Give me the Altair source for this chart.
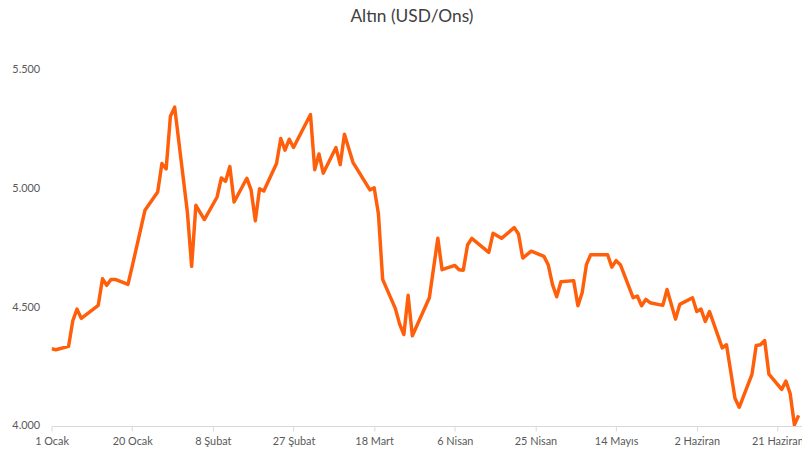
import altair as alt
import pandas as pd

# Trading-day vertices (2026, non-leap year)
dates = [
    "2026-01-01", "2026-01-02", "2026-01-05", "2026-01-06", "2026-01-07", "2026-01-08",
    "2026-01-12", "2026-01-13", "2026-01-14", "2026-01-15", "2026-01-16", "2026-01-19",
    "2026-01-20", "2026-01-23", "2026-01-26", "2026-01-27", "2026-01-28", "2026-01-29",
    "2026-01-30", "2026-02-02", "2026-02-03", "2026-02-04", "2026-02-06", "2026-02-09",
    "2026-02-10", "2026-02-11", "2026-02-12", "2026-02-13", "2026-02-16", "2026-02-17",
    "2026-02-18", "2026-02-19", "2026-02-20", "2026-02-23", "2026-02-24", "2026-02-25",
    "2026-02-26", "2026-02-27", "2026-03-03", "2026-03-04", "2026-03-05", "2026-03-06",
    "2026-03-09", "2026-03-10", "2026-03-11", "2026-03-13", "2026-03-17", "2026-03-18",
    "2026-03-19", "2026-03-20", "2026-03-23", "2026-03-24", "2026-03-25", "2026-03-26",
    "2026-03-27", "2026-03-31", "2026-04-02", "2026-04-03", "2026-04-06", "2026-04-07",
    "2026-04-08", "2026-04-09", "2026-04-10", "2026-04-14", "2026-04-15", "2026-04-17",
    "2026-04-20", "2026-04-21", "2026-04-22", "2026-04-24", "2026-04-27", "2026-04-28",
    "2026-04-29", "2026-04-30", "2026-05-01", "2026-05-04", "2026-05-05", "2026-05-06",
    "2026-05-07", "2026-05-08", "2026-05-12", "2026-05-13", "2026-05-14", "2026-05-15",
    "2026-05-18", "2026-05-19", "2026-05-20", "2026-05-21", "2026-05-22", "2026-05-25",
    "2026-05-26", "2026-05-28", "2026-05-29", "2026-06-01", "2026-06-02", "2026-06-03",
    "2026-06-04", "2026-06-05", "2026-06-08", "2026-06-09", "2026-06-11", "2026-06-12",
    "2026-06-15", "2026-06-16", "2026-06-17", "2026-06-18", "2026-06-19", "2026-06-22",
    "2026-06-23", "2026-06-24", "2026-06-25", "2026-06-26",
]
prices = [
    4325, 4321, 4335, 4443, 4492, 4453,
    4508, 4620, 4592, 4617, 4617, 4596,
    4672, 4908, 4985, 5105, 5082, 5304,
    5342, 4900, 4672, 4929, 4869, 4964,
    5044, 5030, 5092, 4943, 5043, 4994,
    4864, 4999, 4989, 5105, 5210, 5161,
    5207, 5172, 5311, 5079, 5145, 5064,
    5172, 5100, 5228, 5110, 4994, 5003,
    4894, 4617, 4494, 4429, 4385, 4550,
    4380, 4540, 4790, 4658, 4676, 4658,
    4656, 4762, 4790, 4731, 4811, 4790,
    4835, 4808, 4707, 4736, 4714, 4679,
    4596, 4544, 4607, 4612, 4506, 4561,
    4679, 4721, 4721, 4669, 4696, 4679,
    4540, 4547, 4506, 4533, 4519, 4508,
    4575, 4450, 4512, 4540, 4482, 4492,
    4440, 4482, 4329, 4342, 4117, 4079,
    4217, 4339, 4342, 4360, 4218, 4154,
    4189, 4137, 4005, 4045,
]

tick_dates = [(1, 1), (1, 20), (2, 8), (2, 27), (3, 18), (4, 6), (4, 25), (5, 14), (6, 2), (6, 21)]
month_names = ["Ocak", "Şubat", "Mart", "Nisan", "Mayıs", "Haziran"]
y_ticks = [4000, 4500, 5000, 5500]

df = pd.DataFrame({"Tarih": dates, "Fiyat": prices})

FONT = "Lato"
LABEL_COLOR = "#595959"
months_js = "[" + ",".join("'" + m + "'" for m in month_names) + "]"

x_axis = alt.Axis(
    values=[alt.DateTime(year=2026, month=m, date=d, utc=True) for m, d in tick_dates],
    labelExpr="utcdate(datum.value) + ' ' + " + months_js + "[utcmonth(datum.value)]",
    grid=False,
    domainColor="#D9D9D9",
    domainWidth=1,
    tickColor="#D9D9D9",
    tickSize=5,
    labelPadding=5,
    labelFont=FONT,
    labelFontSize=11,
    labelColor=LABEL_COLOR,
    labelFlush=False,
    labelOverlap=False,
    title=None,
)

y_axis = alt.Axis(
    values=y_ticks,
    labelExpr="replace(format(datum.value, ','), ',', '.')",
    grid=False,
    domain=False,
    ticks=False,
    tickSize=0,
    labelPadding=12,
    labelFont=FONT,
    labelFontSize=11,
    labelColor=LABEL_COLOR,
    title=None,
)

chart = (
    alt.Chart(df)
    .mark_line(color="#FF5F0A", strokeWidth=3.5, clip=True, strokeJoin="round")
    .encode(
        x=alt.X(
            "Tarih:T",
            scale=alt.Scale(
                type="utc",
                domain=[
                    alt.DateTime(year=2026, month=1, date=1, utc=True),
                    alt.DateTime(year=2026, month=6, date=26, hours=19, utc=True),
                ],
            ),
            axis=x_axis,
        ),
        y=alt.Y("Fiyat:Q", scale=alt.Scale(domain=[4000, 5500], nice=False, zero=False), axis=y_axis),
    )
    .properties(
        width=758,
        height=360,
        title=alt.TitleParams(
            "Altın (USD/Ons)",
            font=FONT,
            fontSize=17.5,
            fontWeight="normal",
            color="#404040",
            anchor="middle",
            dx=-15,
            offset=39,
        ),
        autosize=alt.AutoSizeParams(type="none"),
        padding={"left": 44, "top": 60, "right": 0, "bottom": 25},
    )
    .configure_view(stroke=None)
)

chart.save("out.html", embed_options={"renderer": "svg", "actions": False})
